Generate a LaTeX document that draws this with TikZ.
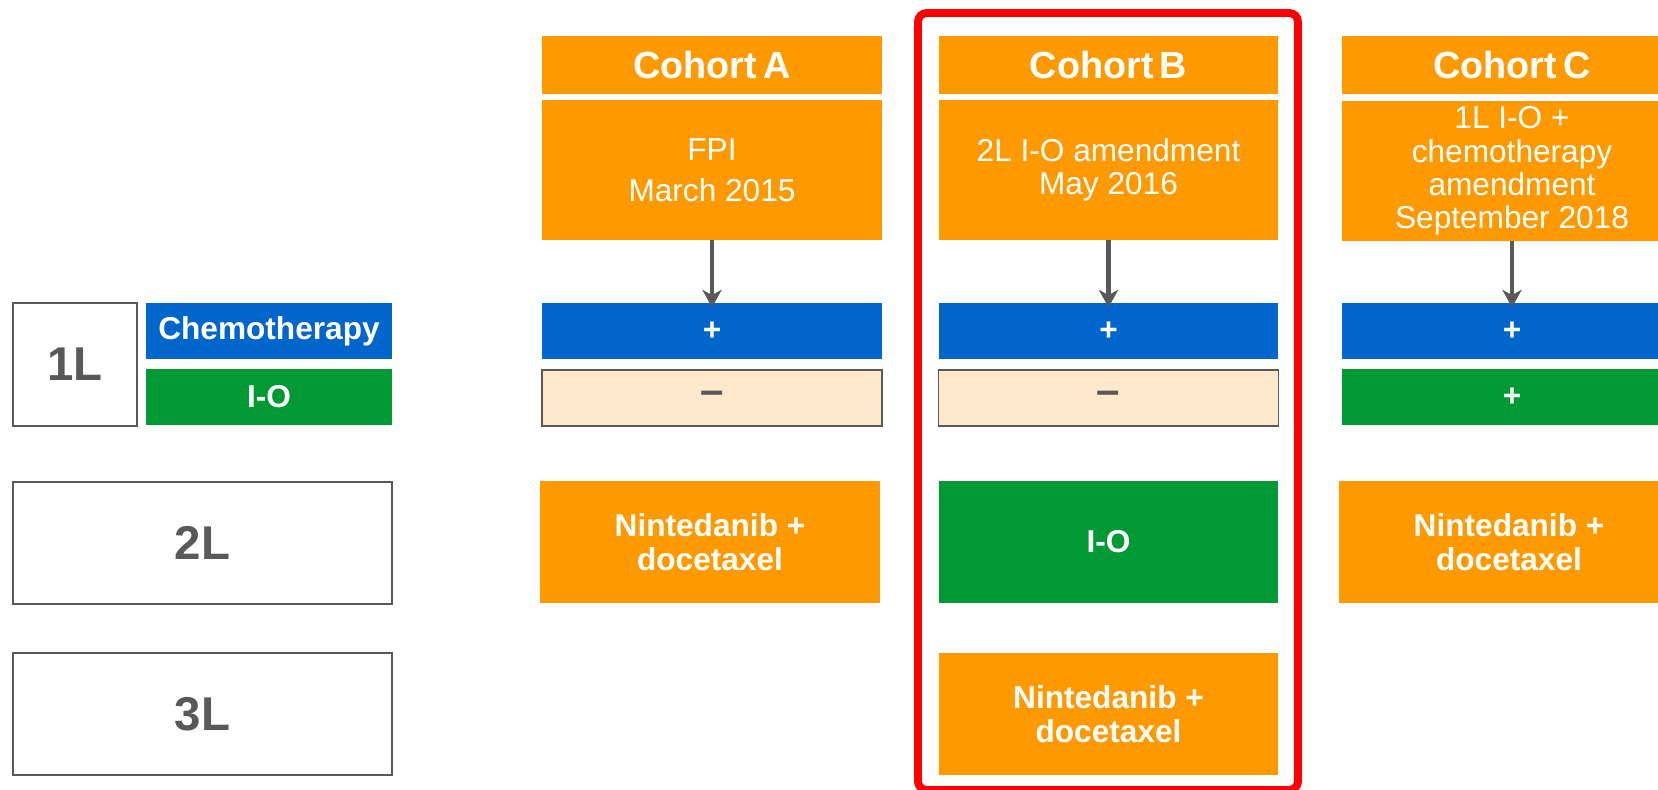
\documentclass[tikz,border=0pt]{standalone}
\usepackage{fontspec}
\setmainfont{Liberation Sans}
\usepackage{tikz}
\usetikzlibrary{arrows.meta}

\definecolor{cohortorange}{HTML}{FF9900}
\definecolor{chemoblue}{HTML}{0066CC}
\definecolor{iogreen}{HTML}{009933}
\definecolor{nonebeige}{HTML}{FFE9CC}
\definecolor{linegray}{HTML}{595959}

\tikzset{
    box/.style={inner sep=0pt, outer sep=0pt, align=center, minimum width=6.8cm},
    cohorthead/.style={box, fill=cohortorange, text=white, minimum height=1.16cm,
        font=\fontsize{21.5}{24}\selectfont\bfseries},
    cohortdesc/.style={box, fill=cohortorange, text=white, minimum height=2.8cm,
        font=\fontsize{18}{19}\selectfont},
    chemobar/.style={box, fill=chemoblue, text=white, minimum height=1.12cm,
        font=\fontsize{18}{20}\selectfont\bfseries},
    iobar/.style={box, fill=iogreen, text=white, minimum height=1.12cm,
        font=\fontsize{18}{20}\selectfont\bfseries},
    nobar/.style={box, fill=nonebeige, draw=linegray, line width=0.85pt, text=linegray,
        minimum height=1.12cm, font=\fontsize{24}{24}\selectfont\bfseries},
    treatbox/.style={box, fill=cohortorange, text=white, minimum height=2.44cm,
        font=\fontsize{18}{19}\selectfont\bfseries},
    linebox/.style={box, draw=linegray, line width=0.85pt, fill=white, text=linegray,
        font=\fontsize{27}{30}\selectfont\bfseries},
    startarrow/.style={draw=linegray, line width=2.8pt, shorten >=-2.5pt,
        -{Stealth[length=10pt, width=11pt, inset=3pt]}}
}

\begin{document}
\begin{tikzpicture}[x=0.02cm, y=-0.02cm]
    \clip (0,0) rectangle (1658,789);

    % lines of therapy
    \node[linebox, minimum width=2.48cm, minimum height=2.46cm] (lineone) at (75,364.5) {1L};
    \node[chemobar, minimum width=4.92cm] (chemolabel) at (269,331) {Chemotherapy};
    \node[iobar, minimum width=4.92cm] (iolabel) at (269,397) {I-O};
    \node[linebox, minimum width=7.58cm, minimum height=2.44cm] (linetwo) at (202.5,543) {2L};
    \node[linebox, minimum width=7.58cm, minimum height=2.44cm] (linethree) at (202.5,714) {3L};

    % cohort A
    \node[cohorthead] (headA) at (712,65) {Cohort\,A};
    \node[cohortdesc] (descA) at (712,170) {FPI\\[4.5pt]March 2015};
    \node[chemobar] (chemoA) at (712,331) {+};
    \node[nobar] (ioA) at (712,398) {--};
    \node[treatbox] (twoA) at (710,542) {Nintedanib +\\docetaxel};
    \draw[startarrow] (descA.south) -- (chemoA.north);

    % cohort B
    \node[cohorthead] (headB) at (1108.5,65) {Cohort\,B};
    \node[cohortdesc] (descB) at (1108.5,170) {2L I-O amendment\\May 2016};
    \node[chemobar] (chemoB) at (1108.5,331) {+};
    \node[nobar] (ioB) at (1108.5,398) {--};
    \node[iobar, minimum height=2.44cm] (twoB) at (1108.5,542) {I-O};
    \node[treatbox] (threeB) at (1108.5,714) {Nintedanib +\\docetaxel};
    \draw[startarrow] (descB.south) -- (chemoB.north);

    % cohort C
    \node[cohorthead] (headC) at (1512,65) {Cohort\,C};
    \node[cohortdesc] (descC) at (1512,171) {1L I-O +\\chemotherapy\\amendment\\September 2018};
    \node[chemobar] (chemoC) at (1512,331) {+};
    \node[iobar] (ioC) at (1512,397) {+};
    \node[treatbox] (twoC) at (1509,542) {Nintedanib +\\docetaxel};
    \draw[startarrow] (descC.south) -- (chemoC.north);

    \draw[red, line width=4.5pt, rounded corners=5pt] (918,13) rectangle (1298,790);
\end{tikzpicture}
\end{document}
